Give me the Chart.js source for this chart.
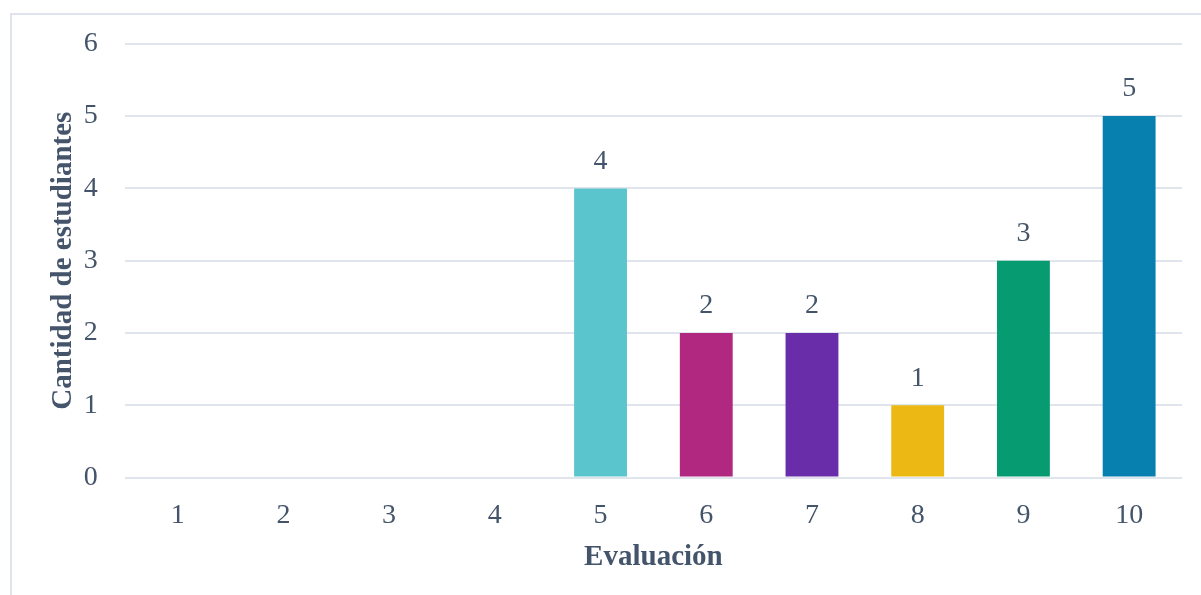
<!DOCTYPE html>
<html>
<head>
<meta charset="utf-8">
<script src="https://cdn.jsdelivr.net/npm/chart.js@4.4.1/dist/chart.umd.min.js"></script>
<style>
  html, body { margin:0; padding:0; background:#fff; overflow:hidden; }
  #frame { position:absolute; left:10px; top:13px; width:1250px; height:650px; border:2px solid #dfe4ec; box-sizing:border-box; }
  #wrap { position:absolute; left:0; top:0; width:1201px; height:595px; }
</style>
</head>
<body>
<div id="frame"></div>
<div id="wrap"><canvas id="evalChart"></canvas></div>
<script>
const categories = ["1","2","3","4","5","6","7","8","9","10"];
const counts = [0,0,0,0,4,2,2,1,3,5];
const barColors = ["#5bc5cd","#5bc5cd","#5bc5cd","#5bc5cd","#5bc5cd","#b0287f","#6a2daa","#ecb914","#069b70","#0780b0"];
const yTicks = [0,1,2,3,4,5,6];

const textColor = "#44546a";
const serif = "'Liberation Serif', 'Times New Roman', serif";

// draws the value above each non-zero bar
const valueLabels = {
  id:"valueLabels",
  afterDatasetsDraw(chart){
    const ctx = chart.ctx;
    const meta = chart.getDatasetMeta(0);
    ctx.save();
    ctx.font = "28px " + serif;
    ctx.fillStyle = textColor;
    ctx.textAlign = "center";
    ctx.textBaseline = "bottom";
    meta.data.forEach((bar, i) => {
      if(!counts[i]) return;
      ctx.fillText(String(counts[i]), bar.x, bar.y - 13);
    });
    ctx.restore();
  }
};

new Chart(document.getElementById("evalChart").getContext("2d"), {
  type:"bar",
  data:{
    labels: categories,
    datasets:[{ data: counts, backgroundColor: barColors, barPercentage:0.5, categoryPercentage:1.0 }]
  },
  options:{
    responsive:true,
    maintainAspectRatio:false,
    animation:false,
    layout:{ padding:{ left:42, right:19, top:34, bottom:16 } },
    plugins:{ legend:{ display:false }, tooltip:{ enabled:false } },
    scales:{
      x:{
        grid:{ display:false, drawTicks:false },
        border:{ display:false },
        ticks:{ color:textColor, font:{ family:serif, size:28 }, padding:21 },
        title:{ display:true, text:"Evaluación", color:textColor, font:{ family:serif, size:29, weight:"bold" }, padding:{ top:-13, bottom:4 } }
      },
      y:{
        min:0, max:6,
        afterBuildTicks(axis){ axis.ticks = yTicks.map(v => ({ value:v })); },
        grid:{ color:"#e0e5ed", lineWidth:2, drawTicks:false },
        border:{ display:false },
        ticks:{ color:textColor, font:{ family:serif, size:28 }, padding:27 },
        title:{ display:true, text:"Cantidad de estudiantes", color:textColor, font:{ family:serif, size:29, weight:"bold" }, padding:{ top:4, bottom:-24 } }
      }
    }
  },
  plugins:[valueLabels]
});
</script>
</body>
</html>
